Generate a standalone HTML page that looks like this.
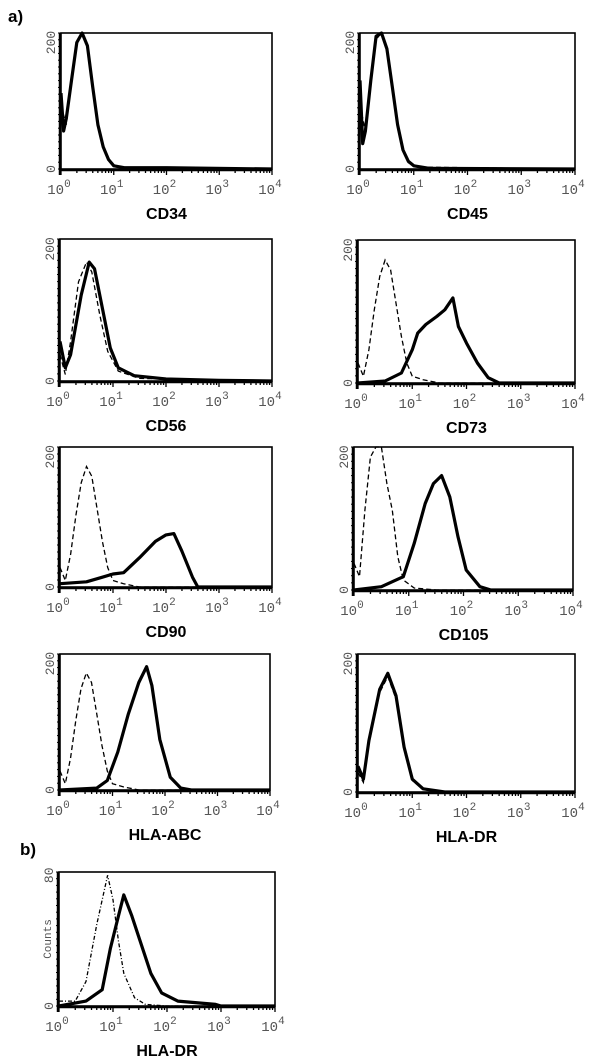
<!DOCTYPE html>
<html><head><meta charset="utf-8">
<style>
html,body{margin:0;padding:0;background:#fff;}
svg{display:block;}
</style></head>
<body>
<svg id="fig" width="600" height="1060" viewBox="0 0 600 1060" xmlns="http://www.w3.org/2000/svg">
<text x="8" y="22" font-family="Liberation Sans, sans-serif" font-weight="bold" font-size="17">a)</text>
<text x="20" y="855" font-family="Liberation Sans, sans-serif" font-weight="bold" font-size="17">b)</text>
</svg>
<script>
// ---- data (x in log10 decades, y in counts) ----
const panelTitles = ["CD34","CD45","CD56","CD73","CD90","CD105","HLA-ABC","HLA-DR","HLA-DR"];
const xTickLabels = ["0","1","2","3","4"];
const cd34SolidX = [0,0.05,0.1,0.2,0.3,0.4,0.5,0.6,0.7,0.8,0.9,1.0,1.2,2,4];
const cd34SolidY = [120,60,80,140,200,215,195,130,70,35,15,5,2,2,0];
const cd34DashX = [0,0.1,0.2,0.3,0.4,0.5,0.6,0.7,0.8,0.9,1.0,1.3,4];
const cd34DashY = [100,70,140,200,215,190,130,70,35,15,5,1,0];
const cd45SolidX = [0,0.05,0.1,0.2,0.3,0.4,0.5,0.6,0.7,0.8,0.9,1.0,1.3,4];
const cd45SolidY = [140,40,60,140,210,215,190,130,70,30,12,5,1,0];
const cd45DashX = [0,0.1,0.2,0.3,0.4,0.5,0.6,0.7,0.8,0.9,1.1,4];
const cd45DashY = [100,60,140,205,215,185,125,65,30,10,3,0];
const cd56SolidX = [0,0.1,0.2,0.4,0.55,0.65,0.8,0.95,1.1,1.4,2,3,4];
const cd56SolidY = [60,20,40,130,180,170,110,50,20,8,3,1,0];
const cd56DashX = [0,0.1,0.2,0.35,0.5,0.6,0.75,0.9,1.1,1.5,4];
const cd56DashY = [40,10,60,150,180,165,100,45,15,4,0];
const cd73SolidX = [0,0.5,0.8,1.0,1.1,1.25,1.45,1.6,1.75,1.85,2.0,2.2,2.4,2.6,4];
const cd73SolidY = [0,3,15,50,75,88,100,110,128,85,60,30,8,0,0];
const hiDashX = [0,0.1,0.2,0.3,0.4,0.5,0.6,0.7,0.8,0.9,1.0,1.2,1.5,4];
const hiDashY = [30,10,50,110,160,185,170,120,70,30,10,5,0,0];
const cd90SolidX = [0,0.5,0.8,1.0,1.2,1.5,1.8,2.0,2.15,2.3,2.5,2.6,4];
const cd90SolidY = [5,8,15,20,22,45,70,80,82,55,15,0,0];
const cd105SolidX = [0,0.5,0.9,1.1,1.3,1.45,1.6,1.75,1.9,2.05,2.3,2.5,4];
const cd105SolidY = [0,5,20,70,130,160,172,140,80,30,5,0,0];
const cd105DashX = [0,0.1,0.2,0.3,0.4,0.5,0.6,0.7,0.8,0.9,1.1,1.5,4];
const cd105DashY = [40,20,120,200,215,215,160,120,50,15,3,0,0];
const abcSolidX = [0,0.7,0.9,1.1,1.3,1.5,1.65,1.75,1.9,2.1,2.3,2.5,4];
const abcSolidY = [0,3,15,60,120,170,195,165,80,20,3,0,0];
const drSolidX = [0,0.1,0.2,0.4,0.55,0.7,0.85,1.0,1.2,1.6,4];
const drSolidY = [40,20,80,160,185,150,70,20,5,0,0];
const drDashX = [0,0.1,0.2,0.4,0.55,0.7,0.85,1.0,1.2,1.6,4];
const drDashY = [30,15,75,155,180,145,65,18,4,0,0];
const bSolidX = [0,0.5,0.8,0.95,1.1,1.2,1.35,1.5,1.7,1.9,2.2,2.9,3,4];
const bSolidY = [0,3,10,35,55,68,55,40,20,8,3,1,0,0];
const bDashX = [0,0.3,0.5,0.7,0.9,1.0,1.1,1.2,1.4,1.6,2,4];
const bDashY = [3,3,15,50,80,65,40,20,5,1,0,0];

const NS="http://www.w3.org/2000/svg";
const svg=document.getElementById('fig');
function mk(tag,attrs,parent){const e=document.createElementNS(NS,tag);for(const k in attrs)e.setAttribute(k,attrs[k]);(parent||svg).appendChild(e);return e;}

const panels=[
 {x0:61,x1:272,y0:33,y1:169,ymax:215,ytick:200,sx:cd34SolidX,sy:cd34SolidY,dx:cd34DashX,dy:cd34DashY,dash:"5,3"},
 {x0:360,x1:575,y0:33,y1:169,ymax:215,ytick:200,sx:cd45SolidX,sy:cd45SolidY,dx:cd45DashX,dy:cd45DashY,dash:"5,3"},
 {x0:60,x1:272,y0:239,y1:381,ymax:215,ytick:200,sx:cd56SolidX,sy:cd56SolidY,dx:cd56DashX,dy:cd56DashY,dash:"5,3"},
 {x0:358,x1:575,y0:240,y1:383,ymax:215,ytick:200,sx:cd73SolidX,sy:cd73SolidY,dx:hiDashX,dy:hiDashY,dash:"5,3"},
 {x0:60,x1:272,y0:447,y1:587,ymax:215,ytick:200,sx:cd90SolidX,sy:cd90SolidY,dx:hiDashX,dy:hiDashY,dash:"5,3"},
 {x0:354,x1:573,y0:447,y1:590,ymax:215,ytick:200,sx:cd105SolidX,sy:cd105SolidY,dx:cd105DashX,dy:cd105DashY,dash:"5,3"},
 {x0:60,x1:270,y0:654,y1:790,ymax:215,ytick:200,sx:abcSolidX,sy:abcSolidY,dx:hiDashX,dy:hiDashY,dash:"5,3"},
 {x0:358,x1:575,y0:654,y1:792,ymax:215,ytick:200,sx:drSolidX,sy:drSolidY,dx:drDashX,dy:drDashY,dash:"5,3"},
 {x0:59,x1:275,y0:872,y1:1006,ymax:82,ytick:80,sx:bSolidX,sy:bSolidY,dx:bDashX,dy:bDashY,dash:"4,2,1,2",counts:true}
];

panels.forEach((p,i)=>{
  const g=mk('g',{});
  
  
  const X=v=>p.x0+(p.x1-p.x0)*v/4;
  const Y=v=>p.y1-(p.y1-p.y0)*v/p.ymax;
  const fr=mk('rect',{x:p.x0,y:p.y0,width:p.x1-p.x0,height:p.y1-p.y0,fill:'none',stroke:'#000','stroke-width':1.6},g);
  
  
  for(let d=0;d<4;d++){for(let m=1;m<10;m++){const xv=X(d+Math.log10(m));mk('line',{x1:xv,x2:xv,y1:p.y1,y2:p.y1+(m===1?6:4),stroke:'#000','stroke-width':1.3},g);}}
  mk('line',{x1:X(4),x2:X(4),y1:p.y1,y2:p.y1+6,stroke:'#000','stroke-width':1.3},g);
  mk('line',{x1:p.x0,x2:p.x1,y1:p.y1+1,y2:p.y1+1,stroke:'#000','stroke-width':2.5},g);
  for(let v=0;v<=p.ymax;v+=p.ymax/20){mk('line',{x1:p.x0-3,x2:p.x0,y1:Y(v),y2:Y(v),stroke:'#000','stroke-width':1},g);}
  mk('line',{x1:p.x0-1,x2:p.x0-1,y1:p.y0,y2:p.y1+6,stroke:'#000','stroke-width':2.5},g);
  [[0,'0'],[p.ytick,String(p.ytick)]].forEach(([v,t])=>{
    const tx=mk('text',{x:0,y:0,transform:`translate(${p.x0-6},${Y(v)}) rotate(-90)`,'text-anchor':'middle','font-family':'Liberation Mono, monospace','font-size':13,fill:'#555'},g);
    tx.textContent=t;
    
    
  });
  if(p.counts){
    const c=mk('text',{transform:`translate(${p.x0-8},${(p.y0+p.y1)/2}) rotate(-90)`,'text-anchor':'middle','font-family':'Liberation Mono, monospace','font-size':11,fill:'#555'},g);
    c.textContent='Counts';
    
    
  }
  xTickLabels.forEach((t,k)=>{
    const tx=mk('text',{x:X(k)-2,y:p.y1+25,'text-anchor':'middle','font-family':'Liberation Mono, monospace','font-size':14,fill:'#555'},g);
    tx.textContent='10';
    const sp=mk('tspan',{dy:-7,'font-size':11},tx);sp.textContent=t;
    
    
  });
  const ti=mk('text',{x:(p.x0+p.x1)/2,y:p.y1+50,'text-anchor':'middle','font-family':'Liberation Sans, sans-serif','font-weight':'bold','font-size':16,fill:'#000'},g);
  ti.textContent=panelTitles[i];
  
  
  const pts=(xs,ys)=>xs.map((x,k)=>X(x).toFixed(1)+','+Y(Math.min(ys[k],p.ymax)).toFixed(1)).join(' ');
  const dl=mk('polyline',{points:pts(p.dx,p.dy),fill:'none',stroke:'#000','stroke-width':1.3,'stroke-dasharray':p.dash},g);
  
  
  const sl=mk('polyline',{points:pts(p.sx,p.sy),fill:'none',stroke:'#000','stroke-width':3.2,'stroke-linejoin':'round'},g);
  
  
});
</script>
</body></html>
